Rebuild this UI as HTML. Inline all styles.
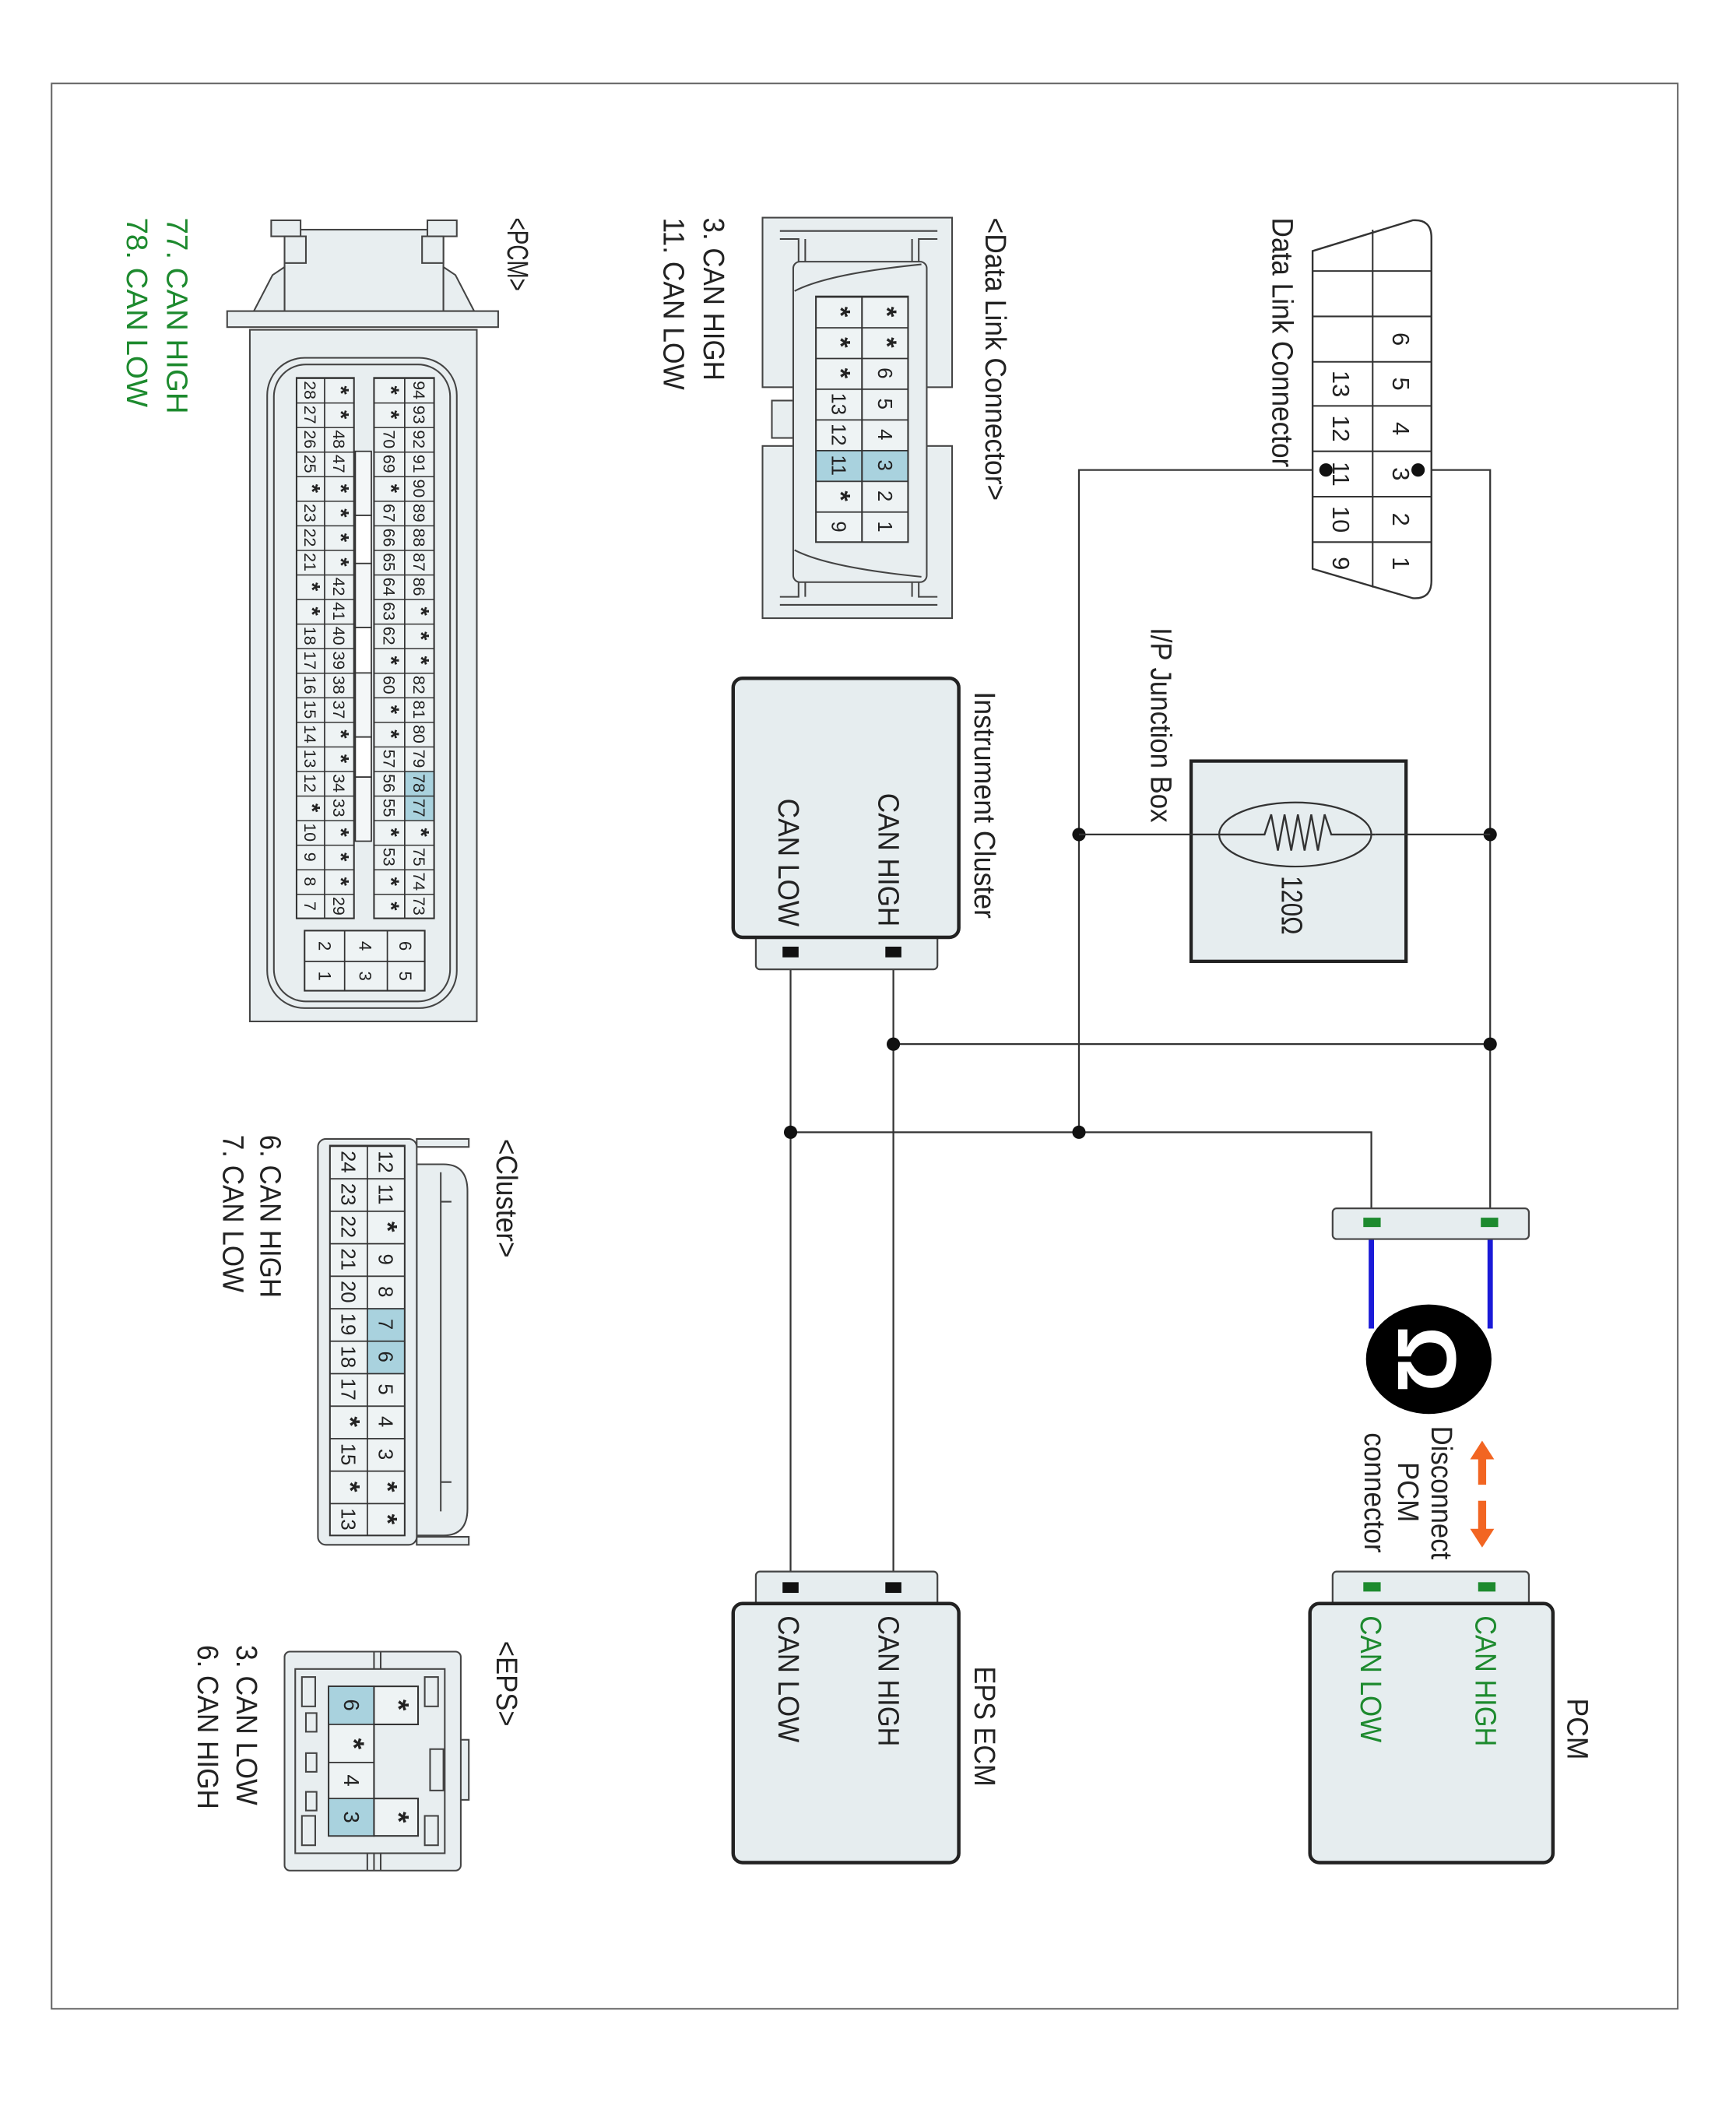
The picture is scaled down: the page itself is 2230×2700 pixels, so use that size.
<!DOCTYPE html>
<html><head><meta charset="utf-8"><style>
html,body{margin:0;padding:0;background:#fff;}
svg{display:block;}
text{font-family:"Liberation Sans",sans-serif;fill:#222;}
.s{font-weight:bold;font-size:1.35em;}
</style></head><body>
<svg width="2230" height="2700" viewBox="0 0 1300 1574.3" xmlns="http://www.w3.org/2000/svg">
<defs>
<pattern id="pr" patternUnits="userSpaceOnUse" x="0" y="283" width="1000" height="18.4"><line x1="0" y1="0.4" x2="1000" y2="0.4" stroke="#333" stroke-width="0.9"/></pattern>
<pattern id="dr" patternUnits="userSpaceOnUse" x="0" y="222" width="1000" height="23"><line x1="0" y1="0.5" x2="1000" y2="0.5" stroke="#333" stroke-width="1"/></pattern>
<pattern id="cr" patternUnits="userSpaceOnUse" x="0" y="858" width="1000" height="24.33"><line x1="0" y1="0.5" x2="1000" y2="0.5" stroke="#333" stroke-width="1"/></pattern>
</defs>
<rect width="1300" height="1574.3" fill="#fff"/>
<rect x="38.5" y="62.5" width="1218" height="1442" fill="none" stroke="#666" stroke-width="1.2"/>

<g stroke="#333" stroke-width="1.3" fill="none">
<path d="M1062 352 H1116 V915"/>
<path d="M993 352 H808 V848"/>
<path d="M592 848 H1027 V915"/>
<path d="M669 782 H1116"/>
<path d="M669 713 V1189"/>
<path d="M592 713 V1189"/>
</g>
<g fill="#111">
<circle cx="808" cy="625" r="5"/><circle cx="1116" cy="625" r="5"/>
<circle cx="669" cy="782" r="5"/><circle cx="1116" cy="782" r="5"/>
<circle cx="808" cy="848" r="5"/><circle cx="592" cy="848" r="5"/>
</g>

<path d="M983 188 L1058 165 Q1072 164 1072 178 L1072 435 Q1072 449 1058 448 L983 426 Z" fill="#fff" stroke="#333" stroke-width="1.4"/>
<g stroke="#333" stroke-width="1.2">
<line x1="1028" y1="172" x2="1028" y2="440"/>
<line x1="983" y1="203" x2="1072" y2="203"/><line x1="983" y1="237" x2="1072" y2="237"/>
<line x1="983" y1="271" x2="1072" y2="271"/><line x1="983" y1="304" x2="1072" y2="304"/>
<line x1="983" y1="338" x2="1072" y2="338"/><line x1="983" y1="372" x2="1072" y2="372"/>
<line x1="983" y1="406" x2="1072" y2="406"/>
</g>
<text transform="translate(1043,0) rotate(90)" font-size="18" text-anchor="middle"><tspan x="254">6</tspan><tspan x="287.5">5</tspan><tspan x="321">4</tspan><tspan x="355">3</tspan><tspan x="389">2</tspan><tspan x="422">1</tspan></text>
<text transform="translate(998,0) rotate(90)" font-size="18" text-anchor="middle"><tspan x="287.5">13</tspan><tspan x="321">12</tspan><tspan x="355">11</tspan><tspan x="389">10</tspan><tspan x="422">9</tspan></text>
<circle cx="1062" cy="352" r="5" fill="#111"/><circle cx="993" cy="352" r="5" fill="#111"/>

<rect x="892" y="570" width="161" height="150" fill="#e6edef" stroke="#222" stroke-width="2.5"/>
<ellipse cx="970" cy="625" rx="57" ry="24" fill="none" stroke="#333" stroke-width="1.3"/>
<path d="M913 625 H947 L952 610 L957 637 L962 610 L967 637 L972 610 L977 637 L982 610 L987 637 L992 610 L997 625 H1030" fill="none" stroke="#333" stroke-width="1.4"/>
<line x1="808" y1="625" x2="913" y2="625" stroke="#333" stroke-width="1.3"/>
<line x1="1030" y1="625" x2="1116" y2="625" stroke="#333" stroke-width="1.3"/>

<rect x="566" y="700" width="136" height="26" rx="3" fill="#e6edef" stroke="#444" stroke-width="1.3"/>
<rect x="549" y="508" width="169" height="194" rx="7" fill="#e6edef" stroke="#222" stroke-width="2.6"/>
<rect x="663" y="709" width="12" height="8" fill="#111"/><rect x="586" y="709" width="12" height="8" fill="#111"/>

<rect x="566" y="1177" width="136" height="26" rx="3" fill="#e6edef" stroke="#444" stroke-width="1.3"/>
<rect x="549" y="1201" width="169" height="194" rx="7" fill="#e6edef" stroke="#222" stroke-width="2.6"/>
<rect x="663" y="1185" width="12" height="8" fill="#111"/><rect x="586" y="1185" width="12" height="8" fill="#111"/>

<rect x="998" y="1177" width="147" height="26" rx="3" fill="#e6edef" stroke="#444" stroke-width="1.3"/>
<rect x="981" y="1201" width="182" height="194" rx="7" fill="#e6edef" stroke="#222" stroke-width="2.6"/>
<rect x="1107" y="1185" width="13" height="7" fill="#1d8a2e"/><rect x="1021" y="1185" width="13" height="7" fill="#1d8a2e"/>

<line x1="1116" y1="918" x2="1116" y2="995" stroke="#1a1ad8" stroke-width="4"/>
<line x1="1027" y1="918" x2="1027" y2="995" stroke="#1a1ad8" stroke-width="4"/>
<rect x="998" y="905" width="147" height="23" rx="3" fill="#e6edef" stroke="#444" stroke-width="1.3"/>
<rect x="1109" y="912" width="13" height="7" fill="#1d8a2e"/><rect x="1021" y="912" width="13" height="7" fill="#1d8a2e"/>
<ellipse cx="1070" cy="1018" rx="47" ry="41" fill="#000"/>
<text transform="translate(1047,0) rotate(90)" font-size="62" font-weight="bold" text-anchor="middle" style="fill:#fff"><tspan x="1018">Ω</tspan></text>
<g fill="#f26522">
<polygon points="1110,1079 1101,1093 1119,1093"/><rect x="1107" y="1092" width="6" height="20"/>
<rect x="1107" y="1124" width="6" height="22"/><polygon points="1101,1145 1119,1145 1110,1159"/>
</g>

<g stroke="#444" stroke-width="1.2" fill="#e8eef0">
<rect x="571" y="163" width="142" height="127"/>
<rect x="571" y="334" width="142" height="129"/>
<rect x="578" y="300" width="16" height="28"/>
<rect x="594" y="196" width="100" height="240" rx="5"/>
</g>
<g stroke="#444" stroke-width="1.2" fill="none">
<path d="M584 173 H702 M584 179 H598 V196 M702 179 H688 V196 M603 179 V196 M683 179 V196"/>
<path d="M584 453 H702 M584 447 H598 V436 M702 447 H688 V436 M603 447 V436 M683 447 V436"/>
<path d="M595 218 Q620 205 690 198"/>
<path d="M595 412 Q620 425 690 432"/>
</g>
<rect x="611" y="222" width="69" height="184" fill="#eef3f4"/>
<rect x="611" y="337" width="69" height="23" fill="#a9d2de"/>
<rect x="611" y="222" width="69" height="184" fill="url(#dr)" stroke="#333" stroke-width="1.2"/>
<line x1="645.5" y1="222" x2="645.5" y2="406" stroke="#333" stroke-width="1.2"/>
<text transform="translate(657.5,0) rotate(90)" font-size="15" text-anchor="middle"><tspan class="s" x="233.5">*</tspan><tspan class="s" x="256.5">*</tspan><tspan x="279.5">6</tspan><tspan x="302.5">5</tspan><tspan x="325.5">4</tspan><tspan x="348.5">3</tspan><tspan x="371.5">2</tspan><tspan x="394.5">1</tspan></text>
<text transform="translate(623,0) rotate(90)" font-size="15" text-anchor="middle"><tspan class="s" x="233.5">*</tspan><tspan class="s" x="256.5">*</tspan><tspan class="s" x="279.5">*</tspan><tspan x="302.5">13</tspan><tspan x="325.5">12</tspan><tspan x="348.5">11</tspan><tspan class="s" x="371.5">*</tspan><tspan x="394.5">9</tspan></text>

<g stroke="#444" stroke-width="1.2" fill="#e8eef0">
<rect x="213" y="172" width="119" height="62"/>
<rect x="203" y="165" width="22" height="12"/><rect x="320" y="165" width="22" height="12"/>
<rect x="213" y="177" width="16" height="20"/><rect x="316" y="177" width="16" height="20"/>
<path d="M213 200 L204 206 L190 233 H213 Z"/><path d="M332 200 L341 206 L355 233 H332 Z"/>
<rect x="170" y="233" width="203" height="12"/>
<rect x="187" y="247" width="170" height="518"/>
<rect x="200" y="268" width="142" height="487" rx="28"/>
<rect x="205" y="273" width="132" height="477" rx="24" fill="none"/>
</g>
<rect x="222" y="283" width="43" height="404.8" fill="#eef3f4"/>
<rect x="280" y="283" width="45" height="404.8" fill="#eef3f4"/>
<rect x="303" y="577.4" width="22" height="36.8" fill="#a9d2de"/>
<rect x="222" y="283" width="43" height="404.8" fill="url(#pr)" stroke="#333" stroke-width="1.2"/>
<rect x="280" y="283" width="45" height="404.8" fill="url(#pr)" stroke="#333" stroke-width="1.2"/>
<line x1="243" y1="283" x2="243" y2="688" stroke="#333" stroke-width="1"/>
<line x1="303" y1="283" x2="303" y2="688" stroke="#333" stroke-width="1"/>
<g stroke="#333" stroke-width="1" fill="#f4f7f8">
<rect x="266" y="338" width="12" height="48"/><rect x="266" y="386" width="12" height="36" fill="#fff"/>
<rect x="266" y="422" width="12" height="48"/><rect x="266" y="470" width="12" height="34" fill="#fff"/>
<rect x="266" y="504" width="12" height="48"/><rect x="266" y="552" width="12" height="30" fill="#fff"/>
<rect x="266" y="582" width="12" height="48"/>
</g>
<g font-size="12.5" text-anchor="middle">
<text transform="translate(309.5,0) rotate(90)"><tspan x="292.2">94</tspan><tspan x="310.6">93</tspan><tspan x="329">92</tspan><tspan x="347.4">91</tspan><tspan x="365.8">90</tspan><tspan x="384.2">89</tspan><tspan x="402.6">88</tspan><tspan x="421">87</tspan><tspan x="439.4">86</tspan><tspan class="s" x="457.8">*</tspan><tspan class="s" x="476.2">*</tspan><tspan class="s" x="494.6">*</tspan><tspan x="513">82</tspan><tspan x="531.4">81</tspan><tspan x="549.8">80</tspan><tspan x="568.2">79</tspan><tspan x="586.6">78</tspan><tspan x="605">77</tspan><tspan class="s" x="623.4">*</tspan><tspan x="641.8">75</tspan><tspan x="660.2">74</tspan><tspan x="678.6">73</tspan></text>
<text transform="translate(287,0) rotate(90)"><tspan class="s" x="292.2">*</tspan><tspan class="s" x="310.6">*</tspan><tspan x="329">70</tspan><tspan x="347.4">69</tspan><tspan class="s" x="365.8">*</tspan><tspan x="384.2">67</tspan><tspan x="402.6">66</tspan><tspan x="421">65</tspan><tspan x="439.4">64</tspan><tspan x="457.8">63</tspan><tspan x="476.2">62</tspan><tspan class="s" x="494.6">*</tspan><tspan x="513">60</tspan><tspan class="s" x="531.4">*</tspan><tspan class="s" x="549.8">*</tspan><tspan x="568.2">57</tspan><tspan x="586.6">56</tspan><tspan x="605">55</tspan><tspan class="s" x="623.4">*</tspan><tspan x="641.8">53</tspan><tspan class="s" x="660.2">*</tspan><tspan class="s" x="678.6">*</tspan></text>
<text transform="translate(249.5,0) rotate(90)"><tspan class="s" x="292.2">*</tspan><tspan class="s" x="310.6">*</tspan><tspan x="329">48</tspan><tspan x="347.4">47</tspan><tspan class="s" x="365.8">*</tspan><tspan class="s" x="384.2">*</tspan><tspan class="s" x="402.6">*</tspan><tspan class="s" x="421">*</tspan><tspan x="439.4">42</tspan><tspan x="457.8">41</tspan><tspan x="476.2">40</tspan><tspan x="494.6">39</tspan><tspan x="513">38</tspan><tspan x="531.4">37</tspan><tspan class="s" x="549.8">*</tspan><tspan class="s" x="568.2">*</tspan><tspan x="586.6">34</tspan><tspan x="605">33</tspan><tspan class="s" x="623.4">*</tspan><tspan class="s" x="641.8">*</tspan><tspan class="s" x="660.2">*</tspan><tspan x="678.6">29</tspan></text>
<text transform="translate(228,0) rotate(90)"><tspan x="292.2">28</tspan><tspan x="310.6">27</tspan><tspan x="329">26</tspan><tspan x="347.4">25</tspan><tspan class="s" x="365.8">*</tspan><tspan x="384.2">23</tspan><tspan x="402.6">22</tspan><tspan x="421">21</tspan><tspan class="s" x="439.4">*</tspan><tspan class="s" x="457.8">*</tspan><tspan x="476.2">18</tspan><tspan x="494.6">17</tspan><tspan x="513">16</tspan><tspan x="531.4">15</tspan><tspan x="549.8">14</tspan><tspan x="568.2">13</tspan><tspan x="586.6">12</tspan><tspan class="s" x="605">*</tspan><tspan x="623.4">10</tspan><tspan x="641.8">9</tspan><tspan x="660.2">8</tspan><tspan x="678.6">7</tspan></text>
</g>
<rect x="228" y="697" width="90" height="45" fill="#eef3f4" stroke="#333" stroke-width="1.2"/>
<path d="M228 720 H318 M258 697 V742 M290 697 V742" stroke="#333" stroke-width="1"/>
<text transform="translate(299,0) rotate(90)" font-size="13" text-anchor="middle"><tspan x="708.5">6</tspan><tspan x="731">5</tspan></text>
<text transform="translate(269,0) rotate(90)" font-size="13" text-anchor="middle"><tspan x="708.5">4</tspan><tspan x="731">3</tspan></text>
<text transform="translate(238.5,0) rotate(90)" font-size="13" text-anchor="middle"><tspan x="708.5">2</tspan><tspan x="731">1</tspan></text>

<g stroke="#444" stroke-width="1.2" fill="#e8eef0">
<rect x="312" y="853" width="39" height="6"/><rect x="312" y="1151" width="39" height="6"/>
<path d="M312 872 H332 Q350 872 350 892 V1130 Q350 1150 332 1150 H312 Z"/>
<path d="M330 878 V900 H338 M330 1132 V1110 H338 M330 900 V1110" fill="none"/>
<rect x="238" y="853" width="74" height="304" rx="6"/>
</g>
<rect x="247" y="858" width="56" height="292" fill="#eef3f4"/>
<rect x="275" y="979.7" width="28" height="48.7" fill="#a9d2de"/>
<rect x="247" y="858" width="56" height="292" fill="url(#cr)" stroke="#333" stroke-width="1.2"/>
<line x1="275" y1="858" x2="275" y2="1150" stroke="#333" stroke-width="1"/>
<g font-size="15" text-anchor="middle">
<text transform="translate(283.5,0) rotate(90)"><tspan x="870.2">12</tspan><tspan x="894.5">11</tspan><tspan class="s" x="918.8">*</tspan><tspan x="943.2">9</tspan><tspan x="967.5">8</tspan><tspan x="991.8">7</tspan><tspan x="1016.2">6</tspan><tspan x="1040.5">5</tspan><tspan x="1064.8">4</tspan><tspan x="1089.2">3</tspan><tspan class="s" x="1113.5">*</tspan><tspan class="s" x="1137.8">*</tspan></text>
<text transform="translate(255.5,0) rotate(90)"><tspan x="870.2">24</tspan><tspan x="894.5">23</tspan><tspan x="918.8">22</tspan><tspan x="943.2">21</tspan><tspan x="967.5">20</tspan><tspan x="991.8">19</tspan><tspan x="1016.2">18</tspan><tspan x="1040.5">17</tspan><tspan class="s" x="1064.8">*</tspan><tspan x="1089.2">15</tspan><tspan class="s" x="1113.5">*</tspan><tspan x="1137.8">13</tspan></text>
</g>

<g stroke="#444" stroke-width="1.2" fill="#e8eef0">
<rect x="321" y="1303" width="30" height="45"/>
<rect x="213" y="1237" width="132" height="164" rx="4"/>
<rect x="221" y="1250" width="112" height="138"/>
<rect x="322" y="1310" width="10" height="31" fill="none"/>
<rect x="229" y="1283" width="8" height="14"/><rect x="229" y="1313" width="8" height="14"/><rect x="229" y="1342" width="8" height="14"/>
<path d="M280 1237 V1250 M285 1237 V1250 M275 1388 V1401 M280 1388 V1401 M285 1388 V1401" fill="none"/>
<rect x="226" y="1256" width="10" height="22"/><rect x="226" y="1360" width="10" height="22"/>
<rect x="318" y="1256" width="10" height="22"/><rect x="318" y="1360" width="10" height="22"/>
</g>
<rect x="246" y="1263" width="34" height="112" fill="#eef3f4" stroke="#333" stroke-width="1.2"/>
<rect x="246" y="1263" width="34" height="28.5" fill="#a9d2de" stroke="#333" stroke-width="1"/>
<rect x="246" y="1347" width="34" height="28" fill="#a9d2de" stroke="#333" stroke-width="1"/>
<path d="M246 1320 H280" stroke="#333" stroke-width="1"/>
<rect x="280" y="1263" width="33" height="28.5" fill="#eef3f4" stroke="#333" stroke-width="1.2"/>
<rect x="280" y="1347" width="33" height="28" fill="#eef3f4" stroke="#333" stroke-width="1.2"/>
<g font-size="16" text-anchor="middle">
<text transform="translate(257.5,0) rotate(90)"><tspan x="1277">6</tspan><tspan class="s" x="1306">*</tspan><tspan x="1333.5">4</tspan><tspan x="1361">3</tspan></text>
<text transform="translate(291,0) rotate(90)"><tspan class="s" x="1277">*</tspan><tspan class="s" x="1361">*</tspan></text>
</g>

<g font-size="22">
<text transform="translate(1174,1272) rotate(90)" textLength="46" lengthAdjust="spacingAndGlyphs">PCM</text>
<text transform="translate(1105,1210) rotate(90)" textLength="98" lengthAdjust="spacingAndGlyphs" style="fill:#1d8a2e">CAN HIGH</text>
<text transform="translate(1019,1210) rotate(90)" textLength="95" lengthAdjust="spacingAndGlyphs" style="fill:#1d8a2e">CAN LOW</text>
<text transform="translate(1072,1068) rotate(90)" textLength="100" lengthAdjust="spacingAndGlyphs">Disconnect</text>
<text transform="translate(1047,1095) rotate(90)" textLength="45" lengthAdjust="spacingAndGlyphs">PCM</text>
<text transform="translate(1022,1073) rotate(90)" textLength="90" lengthAdjust="spacingAndGlyphs">connector</text>
<text transform="translate(730,1248) rotate(90)" textLength="90" lengthAdjust="spacingAndGlyphs">EPS ECM</text>
<text transform="translate(658,1210) rotate(90)" textLength="98" lengthAdjust="spacingAndGlyphs">CAN HIGH</text>
<text transform="translate(583,1210) rotate(90)" textLength="95" lengthAdjust="spacingAndGlyphs">CAN LOW</text>
<text transform="translate(730,518) rotate(90)" textLength="170" lengthAdjust="spacingAndGlyphs">Instrument Cluster</text>
<text transform="translate(658,594) rotate(90)" textLength="100" lengthAdjust="spacingAndGlyphs">CAN HIGH</text>
<text transform="translate(583,598) rotate(90)" textLength="96" lengthAdjust="spacingAndGlyphs">CAN LOW</text>
<text transform="translate(862,470) rotate(90)" textLength="146" lengthAdjust="spacingAndGlyphs">I/P Junction Box</text>
<text transform="translate(960,656) rotate(90)" textLength="44" lengthAdjust="spacingAndGlyphs">120Ω</text>
<text transform="translate(953,163) rotate(90)" textLength="187" lengthAdjust="spacingAndGlyphs">Data Link Connector</text>
<text transform="translate(738,163) rotate(90)" textLength="212" lengthAdjust="spacingAndGlyphs">&lt;Data Link Connector&gt;</text>
<text transform="translate(527,163) rotate(90)" textLength="122" lengthAdjust="spacingAndGlyphs">3. CAN HIGH</text>
<text transform="translate(497,163) rotate(90)" textLength="129" lengthAdjust="spacingAndGlyphs">11. CAN LOW</text>
<text transform="translate(380,163) rotate(90)" textLength="55" lengthAdjust="spacingAndGlyphs">&lt;PCM&gt;</text>
<text transform="translate(125,163) rotate(90)" textLength="147" lengthAdjust="spacingAndGlyphs" style="fill:#1d8a2e">77. CAN HIGH</text>
<text transform="translate(95,163) rotate(90)" textLength="142" lengthAdjust="spacingAndGlyphs" style="fill:#1d8a2e">78. CAN LOW</text>
<text transform="translate(372,853) rotate(90)" textLength="89" lengthAdjust="spacingAndGlyphs">&lt;Cluster&gt;</text>
<text transform="translate(195,850) rotate(90)" textLength="122" lengthAdjust="spacingAndGlyphs">6. CAN HIGH</text>
<text transform="translate(167,850) rotate(90)" textLength="118" lengthAdjust="spacingAndGlyphs">7. CAN LOW</text>
<text transform="translate(372,1229) rotate(90)" textLength="64" lengthAdjust="spacingAndGlyphs">&lt;EPS&gt;</text>
<text transform="translate(177,1232) rotate(90)" textLength="120" lengthAdjust="spacingAndGlyphs">3. CAN LOW</text>
<text transform="translate(148,1232) rotate(90)" textLength="123" lengthAdjust="spacingAndGlyphs">6. CAN HIGH</text>
</g>
</svg>
</body></html>
